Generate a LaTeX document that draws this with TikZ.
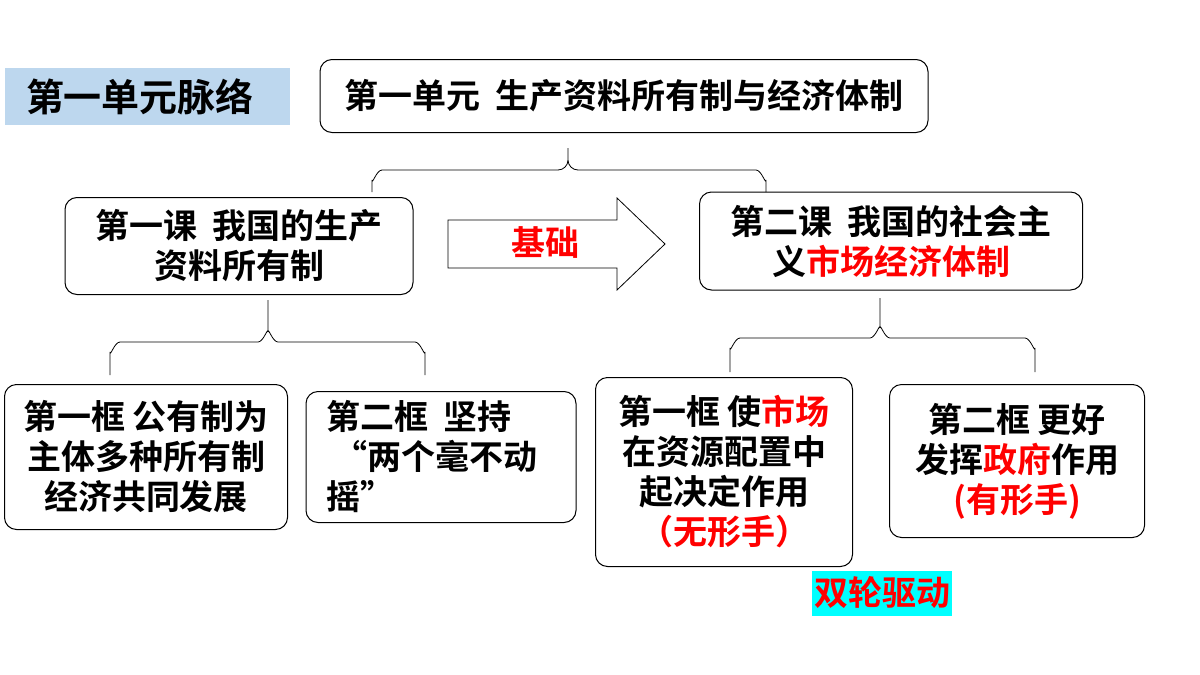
\documentclass[tikz,border=0pt]{standalone}
\usepackage{fontspec}
\setmainfont{Noto Sans CJK SC Bold}
\begin{document}
\begin{tikzpicture}[x=1pt,y=-1pt,
  box/.style={draw=black,line width=1pt,rounded corners=12pt,inner sep=0pt},
  txt/.style={font=\fontsize{34}{40}\selectfont,align=center},
  brace/.style={line width=0.8pt}]
\useasboundingbox (0,0) rectangle (1200,675);
\fill[white] (0,0) rectangle (1200,675);
\node[fill={rgb,255:red,189;green,215;blue,238},minimum width=285pt,minimum height=57pt,inner sep=0pt] (title) at (147,96) {};
\node[txt,font=\fontsize{38}{44}\selectfont] at (140,97) {第一单元脉络};
\node[box,minimum width=608pt,minimum height=73pt] (top) at (624,96) {};
\node[txt] at (624,96) {第一单元\ \ 生产资料所有制与经济体制};
\node[box,minimum width=348pt,minimum height=97pt] (l1) at (239,246) {};
\node[txt] at (239,246) {第一课\ \ 我国的生产\\资料所有制};
\node[box,minimum width=383pt,minimum height=98pt] (r1) at (891,241) {};
\node[txt] at (891,241) {第二课\ \ 我国的社会主\\义\textcolor{red}{市场经济体制}};
\draw[line width=0.8pt] (448,220) -- (617,220) -- (617,198) -- (665,244) -- (617,290) -- (617,268) -- (448,268) -- cycle;
\node[txt,red] (jc) at (545,243) {基础};
\node[box,minimum width=283pt,minimum height=145pt] (b1) at (146,457) {};
\node[txt] at (146,457) {第一框 公有制为\\主体多种所有制\\经济共同发展};
\node[box,minimum width=270pt,minimum height=131pt] (b2) at (441,457) {};
\node[txt,align=left] at (432,457) {第二框\ \ 坚持\\\ “两个毫不动\\摇”};
\node[box,minimum width=257pt,minimum height=189pt] (b3) at (724,472) {};
\node[txt] at (724,472) {第一框 使\textcolor{red}{市场}\\在资源配置中\\起决定作用\\\textcolor{red}{（无形手）}};
\node[box,minimum width=255pt,minimum height=153pt] (b4) at (1017,461) {};
\node[txt] at (1017,461) {第二框 更好\\发挥\textcolor{red}{政府}作用\\\textcolor{red}{(有形手)}};
\node[fill={rgb,255:red,0;green,255;blue,255},minimum width=140pt,minimum height=45pt,inner sep=0pt] (sl) at (882,593) {};
\node[txt,red] at (882,593) {双轮驱动};
% braces
\draw[brace] (372,192) -- (372,180) to[out=-90,in=180] (382,170) -- (558,170) to[out=0,in=-90] (568,160) -- (568,148) (568,160) to[out=-90,in=180] (578,170) -- (756,170) to[out=0,in=-90] (766,180) -- (766,192);
\draw[brace] (110,375) -- (110,352) to[out=-90,in=180] (120,342) -- (258,342) to[out=0,in=90] (268,332) -- (268,300) (268,332) to[out=90,in=180] (278,342) -- (415,342) to[out=0,in=-90] (425,352) -- (425,375);
\draw[brace] (730,372) -- (730,348) to[out=-90,in=180] (740,338) -- (870,338) to[out=0,in=90] (880,328) -- (880,298) (880,328) to[out=90,in=180] (890,338) -- (1025,338) to[out=0,in=-90] (1035,348) -- (1035,372);
\end{tikzpicture}
\end{document}
